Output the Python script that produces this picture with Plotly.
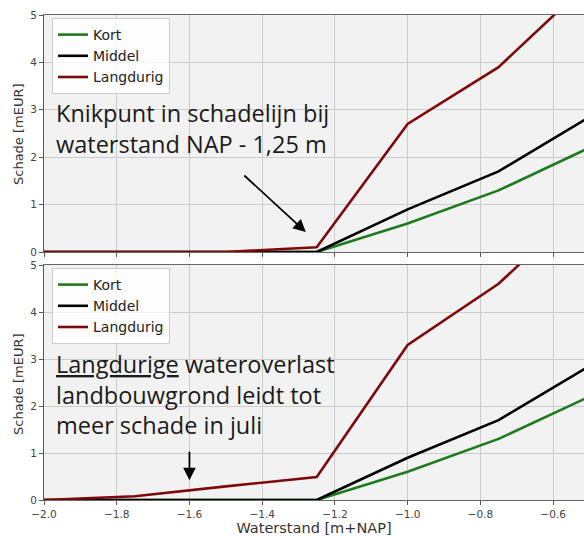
import plotly.graph_objects as go

# Waterstand (m t.o.v. NAP) en schade (mEUR) per duur van de wateroverlast
waterstand = [-2.0, -1.75, -1.5, -1.25, -1.0, -0.75, -0.5]

# Bovenste paneel
kort_boven = [0.0, 0.0, 0.0, 0.0, 0.6, 1.3, 2.2]
middel_boven = [0.0, 0.0, 0.0, 0.0, 0.9, 1.7, 2.85]
langdurig_boven = [0.0, 0.0, 0.0, 0.1, 2.7, 3.9, 5.7]

# Onderste paneel (juli)
kort_onder = [0.0, 0.0, 0.0, 0.0, 0.6, 1.3, 2.2]
middel_onder = [0.0, 0.0, 0.0, 0.0, 0.9, 1.7, 2.85]
langdurig_onder = [0.0, 0.08, 0.29, 0.49, 3.3, 4.6, 6.4]

reeksen = ["Kort", "Middel", "Langdurig"]
kleuren = {"Kort": "#1f7a1f", "Middel": "#000000", "Langdurig": "#7d0a0a"}

x_ticks = [-2.0, -1.8, -1.6, -1.4, -1.2, -1.0, -0.8, -0.6]
y_ticks = [0, 1, 2, 3, 4, 5]

W, H = 584, 536
M_L, M_R, M_T, M_B = 44, 0, 15, 36
plot_h = H - M_T - M_B


def paper_y(px):
    return (H - M_B - px) / plot_h


def paper_x(px):
    return (px - M_L) / (W - M_L - M_R)


fig = go.Figure()

panelen = [
    ("x", "y", "legend", [kort_boven, middel_boven, langdurig_boven]),
    ("x2", "y2", "legend2", [kort_onder, middel_onder, langdurig_onder]),
]
for xa, ya, lg, waarden in panelen:
    for naam, vals in zip(reeksen, waarden):
        fig.add_trace(go.Scatter(
            x=waterstand, y=vals, mode="lines", name=naam,
            line=dict(color=kleuren[naam], width=2.6),
            xaxis=xa, yaxis=ya, legend=lg,
        ))

tick_font = dict(family="DejaVu Sans", size=10.5, color="#444444")
as_x = dict(
    range=[-2.0, -0.515], tickvals=x_ticks, tickformat=".1f",
    showgrid=True, gridcolor="#cccccc", gridwidth=1,
    showline=True, linecolor="#666666", linewidth=1, mirror=True,
    ticks="outside", ticklen=4, tickcolor="#555555",
    tickfont=tick_font, zeroline=False, domain=[0, 1],
)
as_y = dict(
    range=[0, 5], tickvals=y_ticks,
    showgrid=True, gridcolor="#cccccc", gridwidth=1,
    showline=True, linecolor="#555555", linewidth=1,
    ticks="outside", ticklen=4, tickcolor="#555555",
    tickfont=tick_font, zeroline=False,
)

legend_stijl = dict(
    bgcolor="rgba(255,255,255,0.8)", bordercolor="#cccccc", borderwidth=1,
    font=dict(family="DejaVu Sans", size=14, color="#222222"),
    xanchor="left", yanchor="top", itemwidth=30, tracegroupgap=0,
)

fig.update_layout(
    width=W, height=H,
    margin=dict(l=M_L, r=M_R, t=M_T, b=M_B),
    paper_bgcolor="white", plot_bgcolor="#f2f2f2",
    xaxis=dict(as_x, anchor="y", showticklabels=False),
    xaxis2=dict(as_x, anchor="y2", matches="x",
                title=dict(text="Waterstand [m+NAP]",
                           font=dict(family="DejaVu Sans", size=14.5, color="#333333"),
                           standoff=1)),
    yaxis=dict(as_y, domain=[paper_y(252), 1.0]),
    yaxis2=dict(as_y, domain=[0.0, paper_y(265)]),
    legend=dict(legend_stijl, x=paper_x(52), y=paper_y(18)),
    legend2=dict(legend_stijl, x=paper_x(52), y=paper_y(268)),
    showlegend=True,
)

# Aslabels voor de schade, per paneel
label_font = dict(family="DejaVu Sans", size=13, color="#333333")
for yc in (134, 384):
    fig.add_annotation(
        text="Schade [mEUR]", textangle=-90, xref="paper", yref="paper",
        x=paper_x(18), y=paper_y(yc), xanchor="center", yanchor="middle",
        showarrow=False, font=label_font,
    )

tekst_font = dict(family="Open Sans", size=23.5, color="#1a1a1a")
fig.add_annotation(
    text="Knikpunt in schadelijn bij<br>waterstand NAP - 1,25 m",
    xref="paper", yref="paper", x=paper_x(54), y=paper_y(95),
    xanchor="left", yanchor="top", align="left", showarrow=False, font=tekst_font,
)
fig.add_annotation(
    text="<u>Langdurige</u> wateroverlast<br>landbouwgrond leidt tot<br>meer schade in juli",
    xref="paper", yref="paper", x=paper_x(54), y=paper_y(346),
    xanchor="left", yanchor="top", align="left", showarrow=False, font=tekst_font,
)

# Pijlen naar het knikpunt en naar de schadelijn bij -1,6 m
fig.add_annotation(
    x=-1.28, y=0.42, xref="x", yref="y", ax=-63, ay=-58,
    showarrow=True, arrowhead=2, arrowsize=1.4, arrowwidth=1.8, arrowcolor="#000000", text="",
)
fig.add_annotation(
    x=-1.6, y=0.42, xref="x2", yref="y2", ax=0, ay=-30,
    showarrow=True, arrowhead=2, arrowsize=1.4, arrowwidth=1.8, arrowcolor="#000000", text="",
)

fig.write_html("out.html")
